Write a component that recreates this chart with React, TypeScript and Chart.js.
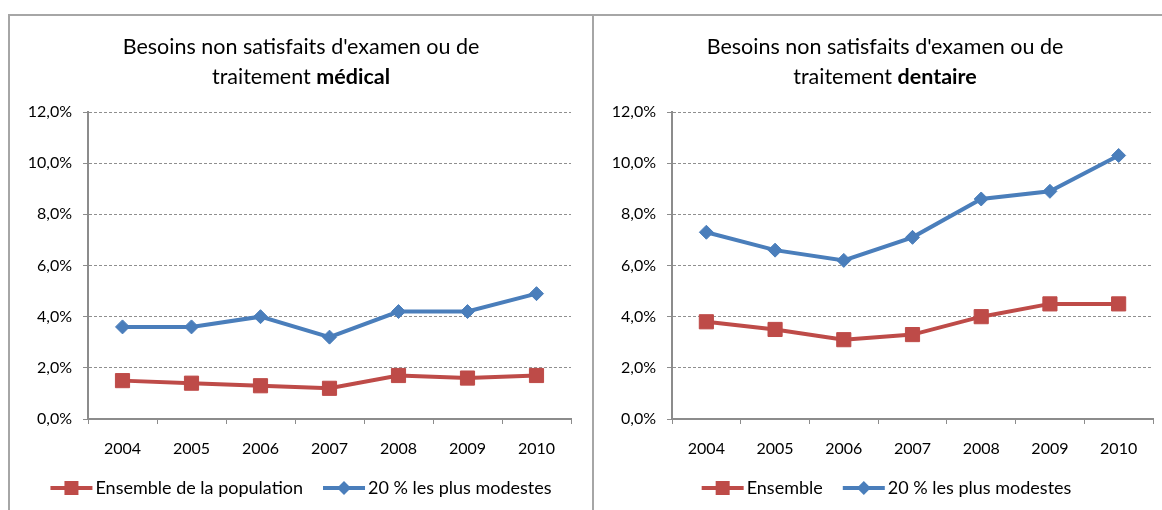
import React, { useEffect, useRef } from "react";
import { Chart, registerables } from "chart.js";

Chart.register(...registerables);

const FONT = "Lato";
Chart.defaults.font.family = FONT;

const years = ["2004", "2005", "2006", "2007", "2008", "2009", "2010"];
const medicalEnsemble = [1.5, 1.4, 1.3, 1.2, 1.7, 1.6, 1.7];
const medicalModestes = [3.6, 3.6, 4.0, 3.2, 4.2, 4.2, 4.9];
const dentalEnsemble = [3.8, 3.5, 3.1, 3.3, 4.0, 4.5, 4.5];
const dentalModestes = [7.3, 6.6, 6.2, 7.1, 8.6, 8.9, 10.3];
const yTicks = [0, 2, 4, 6, 8, 10, 12];
const medicalLabels = ["Ensemble de la population", "20 % les plus modestes"];
const dentalLabels = ["Ensemble", "20 % les plus modestes"];

const RED = "#BE4B48";
const BLUE = "#4A7EBB";
const AXIS = "#8c8c8c";
const GRID = "#8f8f8f";

function drawMarker(ctx: CanvasRenderingContext2D, style: string, x: number, y: number, color: string) {
  ctx.save();
  ctx.fillStyle = color;
  ctx.beginPath();
  if (style === "rect") {
    ctx.rect(x - 7, y - 7, 14, 14);
  } else {
    ctx.moveTo(x, y - 7);
    ctx.lineTo(x + 7, y);
    ctx.lineTo(x, y + 7);
    ctx.lineTo(x - 7, y);
    ctx.closePath();
  }
  ctx.fill();
  ctx.restore();
}

type PanelProps = {
  left: number;
  width: number;
  plotRight: number;
  titleBold: string;
  labels: string[];
  ensemble: number[];
  modestes: number[];
};

function Panel({ left, width, plotRight, titleBold, labels, ensemble, modestes }: PanelProps) {
  const ref = useRef<HTMLCanvasElement | null>(null);
  const height = 494;
  useEffect(() => {
    const canvas = ref.current;
    if (!canvas) return;
    const legendPlugin = {
      id: "lineLegend",
      afterDraw(chart: any) {
        const ctx: CanvasRenderingContext2D = chart.ctx;
        ctx.save();
        ctx.font = `18px ${FONT}`;
        ctx.textBaseline = "middle";
        ctx.fillStyle = "#000";
        const items = chart.data.datasets.map((d: any) => ({
          text: d.label as string,
          color: d.borderColor as string,
          style: d.pointStyle as string,
        }));
        const lineW = 42;
        const gap = 3;
        const itemGap = 20;
        const widths = items.map((it: any) => lineW + gap + ctx.measureText(it.text).width);
        const total = widths.reduce((a: number, b: number) => a + b, 0) + itemGap * (items.length - 1);
        let x = chart.width / 2 - total / 2;
        const y = 472;
        items.forEach((it: any, i: number) => {
          ctx.strokeStyle = it.color;
          ctx.lineWidth = 4;
          ctx.beginPath();
          ctx.moveTo(x, y);
          ctx.lineTo(x + lineW, y);
          ctx.stroke();
          drawMarker(ctx, it.style, x + lineW / 2, y, it.color);
          ctx.fillStyle = "#000";
          ctx.fillText(it.text, x + lineW + gap, y);
          x += widths[i] + itemGap;
        });
        ctx.restore();
      },
    };
    const chart = new Chart(canvas, {
      type: "line",
      data: {
        labels: years,
        datasets: [
          {
            label: labels[0],
            data: ensemble,
            borderColor: RED,
            backgroundColor: RED,
            borderWidth: 4,
            pointStyle: "rect",
            pointRadius: 10,
            pointBorderWidth: 1,
            pointBorderColor: RED,
            pointBackgroundColor: RED,
            tension: 0,
          },
          {
            label: labels[1],
            data: modestes,
            borderColor: BLUE,
            backgroundColor: BLUE,
            borderWidth: 4,
            pointStyle: "rectRot",
            pointRadius: 7,
            pointBorderWidth: 1,
            pointBorderColor: BLUE,
            pointBackgroundColor: BLUE,
            tension: 0,
          },
        ],
      },
      options: {
        responsive: false,
        animation: false,
        layout: { padding: { left: 0, right: width - plotRight, top: 96, bottom: 51 } },
        plugins: {
          legend: { display: false },
          title: { display: false },
          tooltip: { enabled: false },
        },
        scales: {
          x: {
            offset: true,
            grid: {
              offset: true,
              drawOnChartArea: false,
              drawTicks: true,
              tickLength: 5,
              color: AXIS,
              lineWidth: 1,
            },
            border: { color: AXIS, width: 2 },
            ticks: { color: "#000", font: { size: 16, family: FONT }, padding: 15, maxRotation: 0 },
            afterFit: (s: any) => {
              s.height = 40;
            },
          },
          y: {
            min: 0,
            max: 12,
            afterBuildTicks: (s: any) => {
              s.ticks = yTicks.map((v) => ({ value: v }));
            },
            ticks: {
              color: "#000",
              font: { size: 16, family: FONT },
              padding: 11,
              callback: (v: any) => Number(v).toFixed(1).replace(".", ",") + "%",
            },
            grid: {
              color: GRID,
              lineWidth: 1,
              drawTicks: true,
              tickLength: 5,
              tickColor: AXIS,
              tickBorderDash: [1, 0],
            },
            border: { color: AXIS, width: 2, dash: [3, 2] },
            afterFit: (s: any) => {
              s.width = 78;
            },
          },
        },
      },
      plugins: [legendPlugin],
    } as any);
    return () => chart.destroy();
  }, []);
  return (
    <div style={{ position: "absolute", left, top: 16, width, height }}>
      <canvas ref={ref} width={width} height={height} style={{ position: "absolute", left: 0, top: 0, width, height }} />
      <div
        style={{
          position: "absolute",
          left: 0,
          top: 15,
          width: 582,
          textAlign: "center",
          fontFamily: FONT,
          fontSize: 21.5,
          lineHeight: "30px",
          color: "#000",
        }}
      >
        <div>Besoins non satisfaits d'examen ou de</div>
        <div>
          traitement <b>{titleBold}</b>
        </div>
      </div>
    </div>
  );
}

export default function App() {
  const line = "#a6a6a6";
  return (
    <div style={{ position: "fixed", left: 0, top: 0, width: 1162, height: 510, overflow: "hidden", background: "#fff" }}>
      <div style={{ position: "absolute", left: 8, top: 14, width: 1154, height: 2, background: line }} />
      <div style={{ position: "absolute", left: 8, top: 14, width: 2, height: 496, background: line }} />
      <div style={{ position: "absolute", left: 592, top: 14, width: 2, height: 496, background: line }} />
      <Panel left={10} width={582} plotRight={561} titleBold="médical" labels={medicalLabels} ensemble={medicalEnsemble} modestes={medicalModestes} />
      <Panel left={594} width={585} plotRight={559} titleBold="dentaire" labels={dentalLabels} ensemble={dentalEnsemble} modestes={dentalModestes} />
    </div>
  );
}
